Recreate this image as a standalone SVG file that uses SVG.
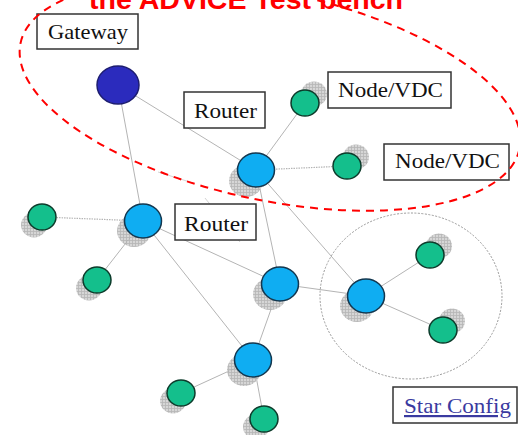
<svg xmlns="http://www.w3.org/2000/svg" width="518" height="435" viewBox="0 0 518 435">
<style>
.bg{fill:#ffffff}
.ln{stroke:#b4b4b4;stroke-width:1;fill:none}
.dot{stroke:#b4b4b4;stroke-width:1.2;fill:none;stroke-dasharray:1.5 1}
.faint{stroke:#d4d4d4;stroke-width:1;fill:none}
.shadow{fill:url(#hatch);opacity:0.85}
.green{fill:#14bf8c;stroke:#0d3b2b;stroke-width:1.5}
.blue{fill:#0fadf2;stroke:#13374f;stroke-width:1.5}
.gw{fill:#2b2bbd;stroke:#1d1d70;stroke-width:1.5}
.box{fill:#ffffff;stroke:#333333;stroke-width:1.5}
.lbl{font-family:"Liberation Serif","Times New Roman",serif;font-size:22px;fill:#111111}
.link{font-family:"Liberation Serif","Times New Roman",serif;font-size:22px;fill:#3a3aa0;text-decoration:underline}
.star{fill:none;stroke:#9a9a9a;stroke-width:1;stroke-dasharray:2 1.5}
.scope{fill:none;stroke:#ff0000;stroke-width:2;stroke-dasharray:8 6}
.title{font-family:"Liberation Sans",Arial,sans-serif;font-size:28px;font-weight:bold;fill:#ff0000}
</style>
<defs>
<pattern id="hatch" width="3" height="3" patternUnits="userSpaceOnUse">
<rect width="3" height="3" fill="#cfcfcf"/>
<path d="M0 0.5H3M0.5 0V3" stroke="#a8a8a8" stroke-width="0.8"/>
</pattern>
</defs>
<rect class="bg" width="518" height="435"/>
<text class="title" x="89" y="9" textLength="314" lengthAdjust="spacingAndGlyphs">the ADVICE Test bench</text>
<g id="star-scope"><ellipse class="star" cx="411" cy="296" rx="91" ry="83"/></g>
<g id="connectors">
<line class="ln" x1="118" y1="85" x2="143" y2="221"/>
<line class="ln" x1="118" y1="85" x2="256" y2="170"/>
<line class="ln" x1="256" y1="170" x2="305" y2="103"/>
<line class="dot" x1="256" y1="170" x2="347" y2="166"/>
<line class="ln" x1="256" y1="170" x2="280" y2="284"/>
<line class="ln" x1="256" y1="170" x2="366" y2="296"/>
<line class="dot" x1="143" y1="221" x2="42" y2="217"/>
<line class="ln" x1="143" y1="221" x2="97" y2="280"/>
<line class="ln" x1="143" y1="221" x2="280" y2="284"/>
<line class="ln" x1="143" y1="221" x2="253" y2="360"/>
<line class="ln" x1="280" y1="284" x2="366" y2="296"/>
<line class="ln" x1="280" y1="284" x2="253" y2="360"/>
<line class="ln" x1="366" y1="296" x2="430" y2="255"/>
<line class="ln" x1="366" y1="296" x2="443" y2="330"/>
<line class="ln" x1="253" y1="360" x2="181" y2="393"/>
<line class="ln" x1="253" y1="360" x2="264" y2="419"/>
<line class="faint" x1="158" y1="172" x2="193" y2="183"/>
<line class="faint" x1="205" y1="198" x2="240" y2="242"/>
</g>
<g id="gateway-node"><ellipse class="gw" cx="118" cy="85" rx="21" ry="19"/></g>
<g id="router-1"><ellipse class="shadow" cx="246" cy="181" rx="17" ry="16"/><ellipse class="blue" cx="256" cy="170" rx="18.5" ry="17"/></g>
<g id="router-2"><ellipse class="shadow" cx="134" cy="231" rx="17" ry="16"/><ellipse class="blue" cx="143" cy="221" rx="18.5" ry="17"/></g>
<g id="router-3"><ellipse class="shadow" cx="270" cy="294" rx="17" ry="16"/><ellipse class="blue" cx="280" cy="284" rx="18.5" ry="17"/></g>
<g id="router-4"><ellipse class="shadow" cx="357" cy="306" rx="17" ry="16"/><ellipse class="blue" cx="366" cy="296" rx="18.5" ry="17"/></g>
<g id="router-5"><ellipse class="shadow" cx="244" cy="370" rx="17" ry="16"/><ellipse class="blue" cx="253" cy="360" rx="18.5" ry="17"/></g>
<g id="node-1"><ellipse class="shadow" cx="314" cy="94" rx="13" ry="12.5"/><ellipse class="green" cx="305" cy="103" rx="14" ry="13"/></g>
<g id="node-2"><ellipse class="shadow" cx="356" cy="157" rx="13" ry="12.5"/><ellipse class="green" cx="347" cy="166" rx="14" ry="13"/></g>
<g id="node-3"><ellipse class="shadow" cx="34" cy="225" rx="13" ry="12.5"/><ellipse class="green" cx="42" cy="217" rx="14" ry="13"/></g>
<g id="node-4"><ellipse class="shadow" cx="89" cy="288" rx="13" ry="12.5"/><ellipse class="green" cx="97" cy="280" rx="14" ry="13"/></g>
<g id="node-5"><ellipse class="shadow" cx="439" cy="246" rx="13" ry="12.5"/><ellipse class="green" cx="430" cy="255" rx="14" ry="13"/></g>
<g id="node-6"><ellipse class="shadow" cx="452" cy="321" rx="13" ry="12.5"/><ellipse class="green" cx="443" cy="330" rx="14" ry="13"/></g>
<g id="node-7"><ellipse class="shadow" cx="173" cy="401" rx="13" ry="12.5"/><ellipse class="green" cx="181" cy="393" rx="14" ry="13"/></g>
<g id="node-8"><ellipse class="shadow" cx="256" cy="427" rx="13" ry="12.5"/><ellipse class="green" cx="264" cy="419" rx="14" ry="13"/></g>
<g id="label-gateway"><rect class="box" x="37" y="14" width="101" height="35"/><text class="lbl" x="48" y="39" textLength="80" lengthAdjust="spacingAndGlyphs">Gateway</text></g>
<g id="label-router-1"><rect class="box" x="184" y="92" width="81" height="36"/><text class="lbl" x="194" y="118" textLength="63" lengthAdjust="spacingAndGlyphs">Router</text></g>
<g id="label-node-1"><rect class="box" x="328" y="72" width="123" height="36"/><text class="lbl" x="338" y="97" textLength="105" lengthAdjust="spacingAndGlyphs">Node/VDC</text></g>
<g id="label-node-2"><rect class="box" x="384" y="144" width="125" height="36"/><text class="lbl" x="395" y="168" textLength="105" lengthAdjust="spacingAndGlyphs">Node/VDC</text></g>
<g id="label-router-2"><rect class="box" x="175" y="204" width="81" height="36"/><text class="lbl" x="184" y="231" textLength="64" lengthAdjust="spacingAndGlyphs">Router</text></g>
<g id="label-star"><rect class="box" x="393" y="387" width="124" height="36"/><text class="link" x="404" y="413" textLength="107" lengthAdjust="spacingAndGlyphs">Star Config</text></g>
<g id="testbench-scope"><ellipse class="scope" cx="270" cy="96" rx="255" ry="104" transform="rotate(12 270 96)"/></g>
</svg>
